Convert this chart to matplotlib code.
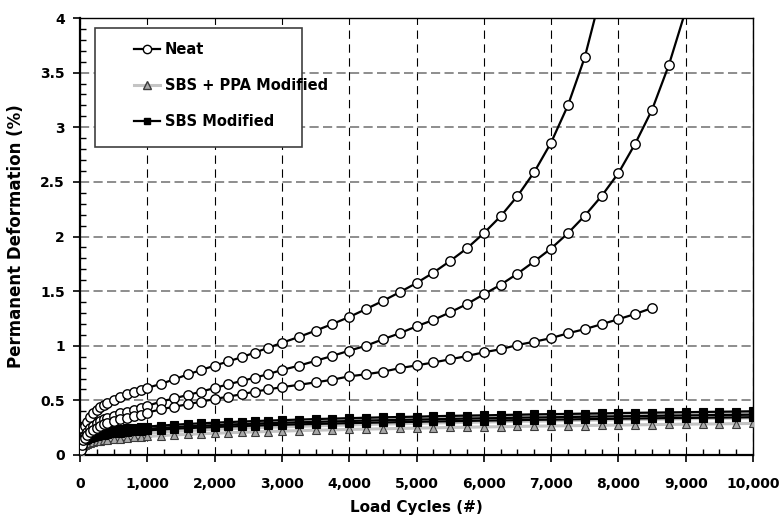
import matplotlib
matplotlib.use("Agg")
import matplotlib.pyplot as plt
from matplotlib.lines import Line2D
from matplotlib.patches import Rectangle
from matplotlib.ticker import MultipleLocator, FixedLocator, FuncFormatter

plt.rcParams['font.family'] = ['DejaVu Sans']
plt.rcParams['font.weight'] = 'bold'

# Load cycles at which deformation was recorded
cycles = [0, 10, 25, 50, 75, 100, 150, 200, 250, 300, 350, 400, 500, 600, 700, 800, 900, 1000,
          1200, 1400, 1600, 1800, 2000, 2200, 2400, 2600, 2800, 3000,
          3250, 3500, 3750, 4000, 4250, 4500, 4750, 5000, 5250, 5500, 5750, 6000,
          6250, 6500, 6750, 7000, 7250, 7500, 7750, 8000, 8250, 8500, 8750, 9000,
          9250, 9500, 9750, 10000]

# Neat binder replicates (permanent deformation, %)
neat_1 = [0, 0.12, 0.18, 0.235, 0.27, 0.30, 0.345, 0.38, 0.41, 0.435, 0.455, 0.475, 0.505, 0.53,
          0.555, 0.575, 0.595, 0.615,
          0.65, 0.693, 0.737, 0.778, 0.818, 0.856, 0.895, 0.938, 0.982, 1.027,
          1.08, 1.138, 1.199, 1.263, 1.336, 1.41, 1.49, 1.574, 1.669, 1.776, 1.892, 2.03,
          2.185, 2.37, 2.59, 2.86, 3.20, 3.64, 4.24]
neat_2 = [0, 0.06, 0.11, 0.155, 0.185, 0.21, 0.245, 0.27, 0.29, 0.31, 0.325, 0.34, 0.36, 0.38,
          0.395, 0.41, 0.43, 0.45,
          0.488, 0.519, 0.549, 0.58, 0.613, 0.647, 0.677, 0.708, 0.741, 0.778,
          0.817, 0.862, 0.907, 0.955, 1.0, 1.059, 1.114, 1.178, 1.236, 1.306, 1.382, 1.471,
          1.558, 1.66, 1.772, 1.89, 2.03, 2.19, 2.37, 2.58, 2.85, 3.16, 3.57, 4.07]
neat_3 = [0, 0.05, 0.095, 0.135, 0.16, 0.18, 0.21, 0.23, 0.25, 0.265, 0.28, 0.29, 0.31, 0.325,
          0.34, 0.355, 0.37, 0.388,
          0.418, 0.442, 0.464, 0.488, 0.512, 0.534, 0.556, 0.58, 0.601, 0.621,
          0.642, 0.665, 0.689, 0.72, 0.739, 0.762, 0.795, 0.82, 0.847, 0.876, 0.906, 0.94,
          0.968, 1.007, 1.037, 1.07, 1.114, 1.152, 1.197, 1.243, 1.291, 1.345]

# SBS + PPA modified replicates
ppa_1 = [0, 0.080, 0.098, 0.115, 0.127, 0.135, 0.149, 0.159, 0.167, 0.174, 0.181, 0.186, 0.196,
         0.204, 0.212, 0.219, 0.224, 0.230,
         0.240, 0.248, 0.256, 0.263, 0.270, 0.276, 0.281, 0.287, 0.291, 0.296,
         0.302, 0.307, 0.312, 0.316, 0.321, 0.325, 0.329, 0.333, 0.337, 0.340, 0.344, 0.347,
         0.351, 0.354, 0.357, 0.360, 0.363, 0.366, 0.368, 0.371, 0.374, 0.376, 0.379, 0.381,
         0.384, 0.386, 0.388, 0.391]
ppa_2 = [0, 0.069, 0.086, 0.100, 0.110, 0.118, 0.129, 0.138, 0.145, 0.152, 0.157, 0.162, 0.171,
         0.178, 0.184, 0.190, 0.195, 0.200,
         0.209, 0.216, 0.223, 0.229, 0.235, 0.240, 0.245, 0.249, 0.253, 0.257,
         0.262, 0.267, 0.271, 0.275, 0.279, 0.283, 0.286, 0.290, 0.293, 0.296, 0.299, 0.302,
         0.305, 0.308, 0.310, 0.313, 0.315, 0.318, 0.320, 0.323, 0.325, 0.327, 0.329, 0.332,
         0.334, 0.336, 0.338, 0.340]
ppa_3 = [0, 0.059, 0.073, 0.085, 0.094, 0.100, 0.110, 0.117, 0.124, 0.129, 0.133, 0.138, 0.145,
         0.151, 0.157, 0.162, 0.166, 0.170,
         0.177, 0.184, 0.189, 0.195, 0.199, 0.204, 0.208, 0.212, 0.215, 0.219,
         0.223, 0.227, 0.230, 0.234, 0.237, 0.240, 0.243, 0.246, 0.249, 0.252, 0.254, 0.257,
         0.259, 0.261, 0.264, 0.266, 0.268, 0.270, 0.272, 0.274, 0.276, 0.278, 0.280, 0.282,
         0.284, 0.285, 0.287, 0.289]

# SBS modified replicates
sbs_1 = [0, 0.110, 0.130, 0.148, 0.160, 0.169, 0.182, 0.192, 0.201, 0.207, 0.214, 0.219, 0.228,
         0.236, 0.243, 0.249, 0.255, 0.260,
         0.269, 0.277, 0.284, 0.290, 0.296, 0.301, 0.306, 0.311, 0.315, 0.319,
         0.324, 0.329, 0.333, 0.337, 0.341, 0.345, 0.348, 0.351, 0.355, 0.358, 0.361, 0.363,
         0.366, 0.369, 0.372, 0.374, 0.376, 0.379, 0.381, 0.384, 0.386, 0.388, 0.390, 0.392,
         0.394, 0.396, 0.398, 0.400]
sbs_2 = [0, 0.101, 0.120, 0.137, 0.148, 0.156, 0.168, 0.178, 0.185, 0.192, 0.197, 0.202, 0.211,
         0.218, 0.224, 0.230, 0.235, 0.240,
         0.248, 0.256, 0.262, 0.268, 0.273, 0.278, 0.283, 0.287, 0.291, 0.295,
         0.299, 0.303, 0.307, 0.311, 0.315, 0.318, 0.321, 0.324, 0.327, 0.330, 0.333, 0.336,
         0.338, 0.341, 0.343, 0.345, 0.348, 0.350, 0.352, 0.354, 0.356, 0.358, 0.360, 0.362,
         0.364, 0.366, 0.367, 0.369]
sbs_3 = [0, 0.095, 0.113, 0.128, 0.139, 0.146, 0.158, 0.167, 0.174, 0.180, 0.185, 0.190, 0.198,
         0.205, 0.210, 0.216, 0.221, 0.225,
         0.233, 0.240, 0.246, 0.251, 0.256, 0.261, 0.265, 0.269, 0.273, 0.276,
         0.281, 0.284, 0.288, 0.292, 0.295, 0.298, 0.301, 0.304, 0.307, 0.309, 0.312, 0.315,
         0.317, 0.319, 0.322, 0.324, 0.326, 0.328, 0.330, 0.332, 0.334, 0.336, 0.338, 0.339,
         0.341, 0.343, 0.344, 0.346]

legend_labels = ["Neat", "SBS + PPA Modified", "SBS Modified"]
x_tick_values = [0, 1000, 2000, 3000, 4000, 5000, 6000, 7000, 8000, 9000, 10000]
y_tick_values = [0, 0.5, 1, 1.5, 2, 2.5, 3, 3.5, 4]

Y_MAX = 4.0

fig = plt.figure(figsize=(7.84, 5.25), dpi=100)
ax = fig.add_axes([80 / 784, 1 - 455 / 525, 673 / 784, 437 / 525])

neat_style = dict(color='black', lw=1.6, marker='o', ms=6.8, mfc='white', mec='black',
                  mew=1.0, zorder=5)
ppa_style = dict(color='#c4c4c4', lw=2.2, marker='^', ms=6.0, mfc='#a8a8a8', mec='#3a3a3a',
                 mew=0.8, zorder=3)
sbs_style = dict(color='black', lw=1.6, marker='s', ms=5.4, mfc='black', mec='black',
                 mew=0.8, zorder=4)


def draw(series, style):
    n = len(series)
    shown = [i for i in range(n) if series[i] <= Y_MAX]
    ax.plot(cycles[:n], series, markevery=shown, **style)


for s in (ppa_1, ppa_2, ppa_3):
    draw(s, ppa_style)
for s in (sbs_1, sbs_2, sbs_3):
    draw(s, sbs_style)
for s in (neat_1, neat_2, neat_3):
    draw(s, neat_style)

ax.set_xlim(0, 10000)
ax.set_ylim(0, Y_MAX)
ax.xaxis.set_major_locator(FixedLocator(x_tick_values))
ax.yaxis.set_major_locator(FixedLocator(y_tick_values))
ax.xaxis.set_minor_locator(MultipleLocator(250))
ax.yaxis.set_minor_locator(MultipleLocator(0.1))
ax.xaxis.set_major_formatter(FuncFormatter(lambda v, p: f"{int(round(v)):,}"))
ax.yaxis.set_major_formatter(FuncFormatter(lambda v, p: f"{v:g}"))

ax.tick_params(axis='both', which='major', direction='out', length=5, width=1.2,
               labelsize=10)
ax.tick_params(axis='x', which='major', pad=11)
ax.tick_params(axis='y', which='major', pad=6)
ax.tick_params(axis='both', which='minor', direction='in', length=4, width=1.0)
for lab in ax.get_xticklabels() + ax.get_yticklabels():
    lab.set_fontweight('bold')

for side in ('left', 'bottom'):
    ax.spines[side].set_linewidth(1.6)
for side in ('top', 'right'):
    ax.spines[side].set_linewidth(1.0)

ax.set_axisbelow(True)
ax.xaxis.grid(True, which='major', color='black', linestyle=(0, (7.5, 5)), linewidth=0.8)
ax.yaxis.grid(True, which='major', color='#7a7a7a', linestyle=(0, (5.5, 2.6)), linewidth=1.2)

ax.set_xlabel("Load Cycles (#)", fontsize=11, fontweight='bold', labelpad=6)
ax.set_ylabel("Permanent Deformation (%)", fontsize=12, fontweight='bold')
ax.yaxis.set_label_coords(-0.082, 0.5)

# Legend: boxed panel in the upper-left corner
x_px = lambda px: (px - 80) / 673
y_px = lambda py: (455 - py) / 437
ax.add_patch(Rectangle((x_px(95), y_px(147)), x_px(302) - x_px(95), y_px(28) - y_px(147),
                       transform=ax.transAxes, fill=True, facecolor='white',
                       edgecolor='#404040', linewidth=1.2, zorder=6))

handles = [
    Line2D([], [], color='black', lw=1.6, marker='o', ms=6, mfc='white', mec='black'),
    Line2D([], [], color='#c4c4c4', lw=2.2, marker='^', ms=5.5, mfc='#a8a8a8', mec='#3a3a3a'),
    Line2D([], [], color='black', lw=1.6, marker='s', ms=4.5, mfc='black', mec='black'),
]
leg = ax.legend(handles, legend_labels, loc='upper left',
                bbox_to_anchor=(x_px(134), y_px(42)), frameon=False,
                borderpad=0, borderaxespad=0, handlelength=1.8, handletextpad=0.3,
                labelspacing=1.45, prop={'weight': 'bold', 'size': 10.5})
leg.set_zorder(7)

fig.savefig("out.png", dpi=100)
